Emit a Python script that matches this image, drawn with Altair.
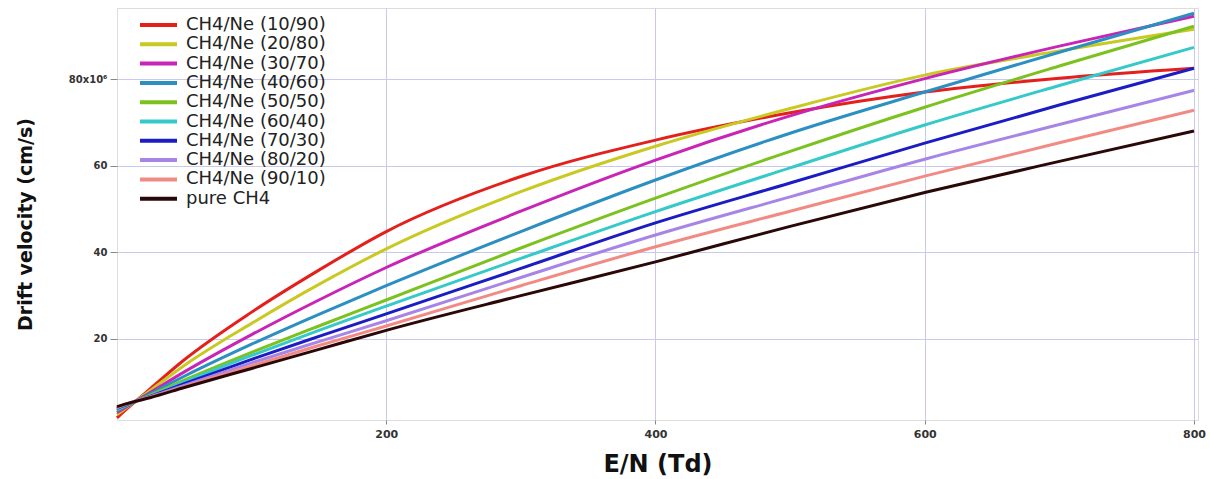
import altair as alt
import pandas as pd

# E/N (Td) sample positions
en_td = [0, 10, 25, 50, 100, 150, 200, 300, 400, 500, 600, 700, 800]

series_names = [
    "CH4/Ne (10/90)", "CH4/Ne (20/80)", "CH4/Ne (30/70)", "CH4/Ne (40/60)",
    "CH4/Ne (50/50)", "CH4/Ne (60/40)", "CH4/Ne (70/30)", "CH4/Ne (80/20)",
    "CH4/Ne (90/10)", "pure CH4",
]
series_colors = [
    "#e3201c", "#c9c923", "#c824b6", "#2b8fc2", "#7cc21f",
    "#35c9c9", "#1c1cc4", "#a785e6", "#f28a84", "#2a0808",
]

v_10_90 = [1.8, 4.6, 8.6, 15.2, 26.2, 35.9, 44.8, 57.5, 65.9, 72.2, 77.0, 80.2, 82.5]
v_20_80 = [2.5, 4.8, 8.2, 13.9, 23.6, 32.6, 40.8, 54.0, 64.5, 73.2, 80.9, 86.5, 91.5]
v_30_70 = [3.0, 4.9, 7.7, 12.4, 21.0, 29.0, 36.5, 49.5, 61.3, 71.5, 80.1, 87.6, 94.5]
v_40_60 = [3.4, 5.0, 7.4, 11.4, 18.8, 25.7, 32.3, 44.8, 56.7, 67.5, 77.0, 86.2, 95.2]
v_50_50 = [3.7, 5.1, 7.1, 10.5, 16.9, 23.0, 29.0, 41.0, 52.5, 63.3, 73.5, 83.0, 92.2]
v_60_40 = [3.8, 5.1, 6.9, 10.1, 16.2, 22.0, 27.6, 38.6, 49.4, 59.5, 69.4, 78.5, 87.3]
v_70_30 = [4.0, 5.2, 6.8, 9.7, 15.3, 20.6, 25.8, 36.3, 46.8, 56.0, 65.2, 74.0, 82.5]
v_80_20 = [4.1, 5.3, 6.7, 9.3, 14.5, 19.4, 24.2, 34.2, 44.0, 52.8, 61.5, 69.5, 77.4]
v_90_10 = [4.2, 5.3, 6.6, 9.0, 13.8, 18.5, 23.0, 32.3, 41.3, 49.5, 57.6, 65.3, 72.8]
v_pure = [4.4, 5.3, 6.5, 8.8, 13.2, 17.6, 22.0, 30.0, 37.8, 46.0, 53.8, 61.0, 68.0]

all_values = [v_10_90, v_20_80, v_30_70, v_40_60, v_50_50,
              v_60_40, v_70_30, v_80_20, v_90_10, v_pure]

x_ticks = [200, 400, 600, 800]
y_ticks = [20, 40, 60, 80]

rows = []
for name, vals in zip(series_names, all_values):
    for x, y in zip(en_td, vals):
        rows.append({"EN": x, "v": y, "mix": name})
df = pd.DataFrame(rows)

legend_df = pd.DataFrame({"mix": series_names, "idx": list(range(len(series_names)))})

FONT = "DejaVu Sans"
color_scale = alt.Scale(domain=series_names, range=series_colors)

lines = (
    alt.Chart(df)
    .mark_line(strokeWidth=3, interpolate="monotone")
    .encode(
        x=alt.X(
            "EN:Q",
            scale=alt.Scale(domain=[0, 803], nice=False, zero=False),
            axis=alt.Axis(
                values=x_ticks, title="E/N (Td)", format="d",
                titleFont=FONT, titleFontSize=24, titleFontWeight="bold",
                titleColor="#111", titleY=32, titleBaseline="top",
                labelFont=FONT, labelFontSize=11, labelFontWeight="bold",
                labelColor="#333", labelPadding=4,
                tickSize=4, tickColor="#888", domain=False,
                gridColor="#c9c9f0", gridWidth=1,
            ),
        ),
        y=alt.Y(
            "v:Q",
            scale=alt.Scale(domain=[1.3, 96.4], nice=False, zero=False),
            axis=alt.Axis(
                values=y_ticks, title="Drift velocity (cm/s)",
                labelExpr="datum.value == 80 ? '80x10⁶' : datum.label",
                titleFont=FONT, titleFontSize=19, titleFontWeight="bold",
                titleColor="#111", titleX=-92, titleY=216, titleAngle=270,
                titleBaseline="middle", titleAlign="center",
                labelFont=FONT, labelFontSize=10, labelFontWeight="bold",
                labelColor="#333", labelPadding=3,
                tickSize=7, tickColor="#888", domain=False,
                gridColor="#c9c9f0", gridWidth=1,
            ),
        ),
        color=alt.Color("mix:N", scale=color_scale, sort=series_names, legend=None),
        detail="mix:N",
    )
)

leg_base = alt.Chart(legend_df).transform_calculate(
    ypix="17 + datum.idx * 19.3"
)

leg_rules = leg_base.mark_rule(strokeWidth=4).encode(
    x=alt.value(23),
    x2=alt.value(60),
    y=alt.Y("ypix:Q", scale=None),
    color=alt.Color("mix:N", scale=color_scale, legend=None),
)

leg_text = leg_base.mark_text(
    align="left", baseline="middle", font=FONT, fontSize=18, color="#222"
).encode(
    x=alt.value(69),
    y=alt.Y("ypix:Q", scale=None),
    text="mix:N",
)

chart = (
    alt.layer(lines, leg_rules, leg_text)
    .properties(
        width=1081, height=412,
        padding={"left": 117, "top": 8, "right": 12, "bottom": 59},
        autosize=alt.AutoSizeParams(type="none"),
    )
    .configure_view(stroke="#9a9a9a", strokeWidth=1.5)
    .configure(background="white")
)

chart.save("out.html", embed_options={"renderer": "svg", "actions": False})
